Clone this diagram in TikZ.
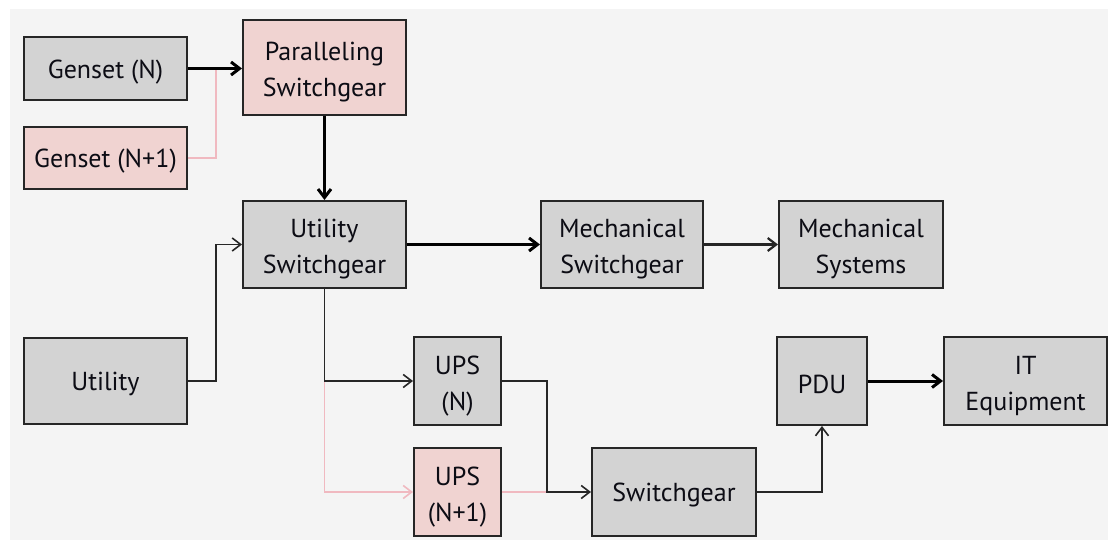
\documentclass[tikz,border=0pt]{standalone}
\usepackage{fontspec}
\setmainfont{PT Sans}
\usetikzlibrary{arrows.meta}
\definecolor{boxgray}{HTML}{D3D3D3}
\definecolor{boxpink}{HTML}{F0D3D1}
\definecolor{edgedark}{HTML}{262626}
\definecolor{linepink}{HTML}{F0B9C0}
\definecolor{bg}{HTML}{F4F4F4}
\definecolor{ink}{HTML}{0C0C14}
% extra headroom on the first line sets the text a little lower in its box
\newcommand\headroom{\rule{0pt}{28pt}}
\tikzset{
  blockbase/.style={draw=edgedark, line width=2pt, inner sep=2pt, align=center,
    text=ink, font=\fontsize{26}{36}\selectfont,
    execute at begin node={\rule{0pt}{25pt}}},
  graybox/.style={blockbase, fill=boxgray},
  pinkbox/.style={blockbase, fill=boxpink},
  tip/.style={-{Straight Barb[length=8.5pt,width=13pt]}},
  heavy/.style={tip, line width=3pt, draw=black},
  medium/.style={tip, line width=2.2pt, draw=edgedark},
  light/.style={line width=1.6pt, draw=edgedark},
  spare/.style={line width=1.6pt, draw=linepink},
}
\begin{document}
\begin{tikzpicture}[x=1pt,y=-1pt]
  \useasboundingbox (0,0) rectangle (1108,540);
  \fill[white] (0,0) rectangle (1108,540);
  \fill[bg] (10,9) rectangle (1108,540);

  % generator side
  \node[graybox, minimum width=163pt, minimum height=63pt] (genN)  at (105.5,68.5) {Genset (N)};
  \node[pinkbox, minimum width=163pt, minimum height=62pt] (genN1) at (105.5,158) {Genset (N+1)};
  \node[pinkbox, minimum width=163pt, minimum height=95pt] (par) at (324.5,67.5) {\headroom Paralleling\\Switchgear};

  % main distribution
  \node[graybox, minimum width=163pt, minimum height=87pt] (usw)  at (324.5,244.5) {\headroom Utility\\Switchgear};
  \node[graybox, minimum width=162pt, minimum height=87pt] (msw)  at (622,244.5) {\headroom Mechanical\\Switchgear};
  \node[graybox, minimum width=164pt, minimum height=87pt] (msys) at (861,244.5) {\headroom Mechanical\\Systems};
  \node[graybox, minimum width=163pt, minimum height=86pt] (util) at (105.5,381) {Utility};

  % critical power path
  \node[graybox, minimum width=87pt, minimum height=88pt] (upsN)  at (457.5,381) {\headroom UPS\\(N)};
  \node[pinkbox, minimum width=87pt, minimum height=88pt] (upsN1) at (457.5,492) {\headroom UPS\\(N+1)};
  \node[graybox, minimum width=164pt, minimum height=88pt] (swg)   at (674,492) {Switchgear};
  \node[graybox, minimum width=90pt, minimum height=88pt]  (pdu)   at (822,381) {PDU};
  \node[graybox, minimum width=163pt, minimum height=88pt] (it) at (1025.5,381) {\headroom IT\\Equipment};

  % junction points of the routed lines
  \coordinate (jg) at (216,68.5);
  \coordinate (ju) at (216,0);
  \coordinate (jb) at (547,0);
  \coordinate (jd) at (usw.south |- upsN.west);

  % redundant (N+1) feeds
  \draw[spare] (genN1.east) -| (jg);
  \draw[spare, tip] (jd) |- (upsN1.west);
  \draw[spare] (upsN1.east) -- (jb |- upsN1.east);

  % primary feeds
  \draw[heavy] (genN.east) -- (genN.east -| par.west);
  \draw[heavy] (par.south) -- (usw.north);
  \draw[light, tip] (util.east) -- (ju |- util.east) |- (usw.west);
  \draw[heavy] (usw.east) -- (msw.west);
  \draw[medium] (msw.east) -- (msys.west);
  \draw[light, tip] (usw.south) |- (upsN.west);
  \draw[light, tip] (upsN.east) -| (jb |- swg.west) -- (swg.west);
  \draw[light, tip] (swg.east) -| (pdu.south);
  \draw[heavy] (pdu.east) -- (it.west);
\end{tikzpicture}
\end{document}
